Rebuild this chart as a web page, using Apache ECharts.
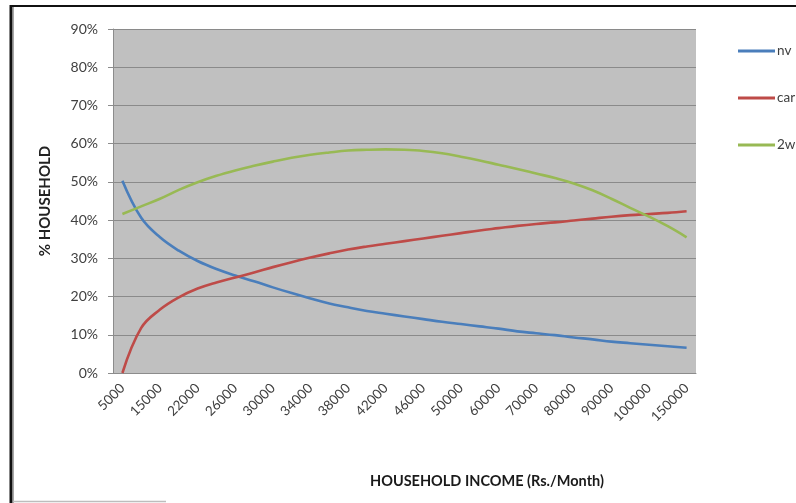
<!DOCTYPE html>
<html>
<head>
<meta charset="utf-8">
<title>Household vehicle ownership by income</title>
<script src="https://cdn.jsdelivr.net/npm/echarts@6/dist/echarts.min.js"></script>
<style>
  html, body { margin: 0; padding: 0; background: #fff; }
  #chart { width: 796px; height: 503px; }
</style>
</head>
<body>
<div id="chart"></div>
<script>
// Household income categories (Rs./Month); every other one is labelled
const incomeCategories = [
  '5000', '10000', '15000', '18000', '22000', '24000', '26000', '28000',
  '30000', '32000', '34000', '36000', '38000', '40000', '42000', '44000',
  '46000', '48000', '50000', '55000', '60000', '65000', '70000', '75000',
  '80000', '85000', '90000', '95000', '100000', '125000', '150000'
];

// Share of households (%) in each category
const nvShare = [
  50.3, 40.6, 35.5, 32.0, 29.3, 27.2, 25.5, 24.0, 22.4, 20.9, 19.5,
  18.2, 17.2, 16.2, 15.5, 14.8, 14.1, 13.4, 12.8, 12.2, 11.6, 10.9,
  10.4, 9.9, 9.3, 8.8, 8.2, 7.8, 7.4, 7.0, 6.6
];
const carShare = [
  0.0, 11.8, 16.6, 19.8, 22.1, 23.7, 25.0, 26.3, 27.7, 29.0, 30.2,
  31.3, 32.3, 33.1, 33.8, 34.5, 35.2, 35.9, 36.6, 37.3, 37.9, 38.5,
  39.0, 39.4, 39.9, 40.4, 40.9, 41.3, 41.6, 41.9, 42.3
];
const twoWheelerShare = [
  41.6, 43.6, 45.6, 47.9, 49.9, 51.6, 53.0, 54.2, 55.3, 56.3, 57.1,
  57.7, 58.2, 58.4, 58.5, 58.4, 58.1, 57.5, 56.6, 55.6, 54.5, 53.4,
  52.2, 51.0, 49.6, 47.8, 45.6, 43.2, 40.9, 38.4, 35.5
];

const seriesNames = ['nv', 'car', '2wl'];
const seriesColors = ['#4a7ebb', '#be4b48', '#98b954'];
const yTicks = { min: 0, max: 90, interval: 10 };

const font = 'Lato, "Open Sans", "Liberation Sans", sans-serif';
const textColor = '#404040';

const chart = echarts.init(document.getElementById('chart'), null, { renderer: 'canvas' });

function lineSeries(name, data, color) {
  return {
    name: name,
    type: 'line',
    data: data,
    smooth: 0.4,
    showSymbol: false,
    symbol: 'none',
    lineStyle: { color: color, width: 2.6 },
    itemStyle: { color: color },
    z: 3
  };
}

chart.setOption({
  animation: false,
  backgroundColor: '#ffffff',
  title: {
    text: 'HOUSEHOLD INCOME (Rs./Month)',
    left: 482, top: 469, textAlign: 'center',
    textStyle: { fontFamily: font, fontSize: 14.5, fontWeight: 'bold', color: '#1a1a1a' }
  },
  grid: {
    left: 113, right: 100, top: 29, bottom: 130,
    show: true, backgroundColor: '#c0c0c0', borderWidth: 0
  },
  legend: {
    orient: 'vertical',
    left: 733, top: 39,
    itemWidth: 37, itemHeight: 3, itemGap: 33,
    icon: 'rect',
    textStyle: { fontFamily: font, fontSize: 13.5, color: textColor, padding: [0, 0, 0, -3] },
    data: seriesNames
  },
  xAxis: {
    type: 'category',
    data: incomeCategories,
    boundaryGap: true,
    axisLine: { show: true, lineStyle: { color: '#8c8c8c', width: 1 } },
    axisTick: { show: false },
    axisLabel: {
      interval: 1, rotate: 45, margin: 13,
      fontFamily: font, fontSize: 13.5, color: textColor
    }
  },
  yAxis: {
    type: 'value',
    min: yTicks.min, max: yTicks.max, interval: yTicks.interval,
    axisLine: { show: true, lineStyle: { color: '#8c8c8c', width: 1 } },
    axisTick: { show: true, length: 5, lineStyle: { color: '#8c8c8c' } },
    splitLine: { show: true, lineStyle: { color: '#8a8a8a', width: 1.2 } },
    axisLabel: {
      formatter: '{value}%', margin: 15,
      fontFamily: font, fontSize: 14, color: textColor
    },
    name: '% HOUSEHOLD',
    nameLocation: 'middle', nameGap: 60, nameRotate: 90,
    nameTextStyle: { fontFamily: font, fontSize: 15, fontWeight: 'bold', color: '#222' }
  },
  series: [
    lineSeries(seriesNames[0], nvShare, seriesColors[0]),
    lineSeries(seriesNames[1], carShare, seriesColors[1]),
    lineSeries(seriesNames[2], twoWheelerShare, seriesColors[2])
  ],
  graphic: [
    // outer frame of the chart area
    { type: 'line', shape: { x1: 10, y1: 6, x2: 796, y2: 6 }, style: { stroke: '#111', lineWidth: 2 }, silent: true },
    { type: 'line', shape: { x1: 11, y1: 5, x2: 11, y2: 503 }, style: { stroke: '#111', lineWidth: 3 }, silent: true },
    { type: 'line', shape: { x1: 13.5, y1: 7, x2: 13.5, y2: 503 }, style: { stroke: '#a8a8a8', lineWidth: 1 }, silent: true },
    { type: 'line', shape: { x1: 13, y1: 501.5, x2: 166, y2: 501.5 }, style: { stroke: '#bdbdbd', lineWidth: 1.5 }, silent: true }
  ]
});
</script>
</body>
</html>
